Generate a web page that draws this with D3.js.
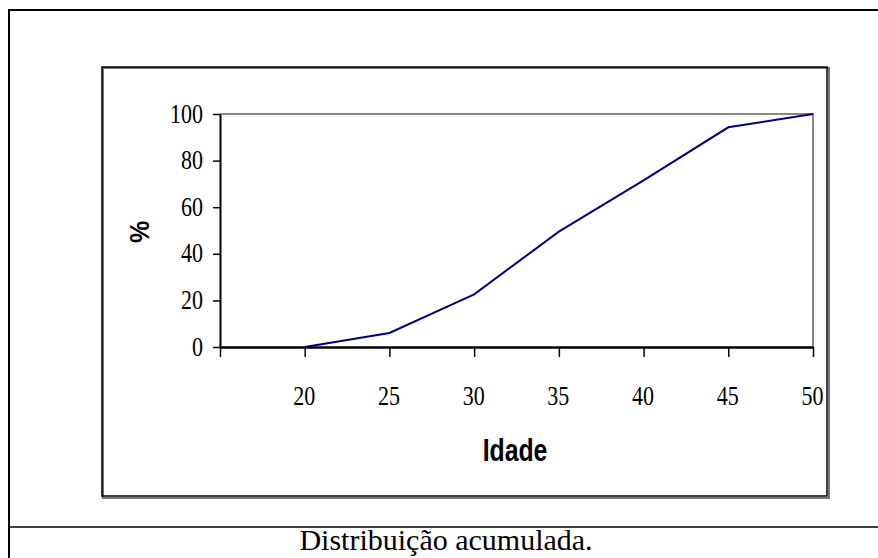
<!DOCTYPE html>
<html>
<head>
<meta charset="utf-8">
<script src="https://cdn.jsdelivr.net/npm/d3@7"></script>
<style>
  body { margin: 0; background: #fff; }
  svg { display: block; }
</style>
</head>
<body>
<svg></svg>
<script>
var idades = [20, 25, 30, 35, 40, 45, 50];
var acumulado = [0, 6, 22.6, 49.5, 71.5, 94.3, 100];
var yTicks = [0, 20, 40, 60, 80, 100];

var svg = d3.select("svg").attr("width", 878).attr("height", 558);

// moldura da figura
svg.append("line").attr("x1", 9).attr("x2", 878).attr("y1", 10).attr("y2", 10)
  .attr("stroke", "#000").attr("stroke-width", 2);
svg.append("line").attr("x1", 9).attr("x2", 9).attr("y1", 9).attr("y2", 558)
  .attr("stroke", "#000").attr("stroke-width", 2);
svg.append("line").attr("x1", 9).attr("x2", 878).attr("y1", 527).attr("y2", 527)
  .attr("stroke", "#000").attr("stroke-width", 1.5);

// caixa do grafico (com sombra)
svg.append("rect").attr("x", 103).attr("y", 68).attr("width", 726).attr("height", 430)
  .attr("fill", "none").attr("stroke", "#777").attr("stroke-width", 2);
svg.append("rect").attr("x", 102).attr("y", 67).attr("width", 725).attr("height", 429)
  .attr("fill", "none").attr("stroke", "#000").attr("stroke-width", 1.5);

var x = d3.scaleLinear().domain([15, 50]).range([220, 813]);
var y = d3.scaleLinear().domain([0, 100]).range([347, 114]);

// borda cinza da area de plotagem
svg.append("path")
  .attr("d", "M" + x(15) + "," + y(100) + "H" + x(50) + "V" + y(0))
  .attr("fill", "none").attr("stroke", "#888").attr("stroke-width", 2);

var serif = "'Liberation Serif', 'Times New Roman', serif";
var sans = "'Liberation Sans', Arial, sans-serif";

// eixo Y
var yAxis = svg.append("g").attr("transform", "translate(" + x(15) + ",0)")
  .call(d3.axisLeft(y).tickValues(yTicks).tickSize(7).tickPadding(10).tickSizeOuter(0));
yAxis.select(".domain").attr("stroke", "#000").attr("stroke-width", 2);
yAxis.selectAll(".tick line").attr("stroke", "#000").attr("stroke-width", 1.5);
yAxis.selectAll(".tick text")
  .attr("font-family", serif).attr("font-size", 22).attr("fill", "#000")
  .attr("x", null).attr("dy", null)
  .attr("transform", "translate(-17,8) scale(1,1.22)");

// eixo X
var xAxis = svg.append("g").attr("transform", "translate(0," + y(0) + ")")
  .call(d3.axisBottom(x).tickValues([15].concat(idades)).tickSize(10).tickSizeOuter(0).tickFormat(function(d) { return d === 15 ? "" : d; }));
xAxis.select(".domain").attr("stroke", "#000").attr("stroke-width", 2.5);
xAxis.selectAll(".tick line").attr("stroke", "#000").attr("stroke-width", 1.5);
xAxis.selectAll(".tick text")
  .attr("font-family", serif).attr("font-size", 22).attr("fill", "#000")
  .attr("y", null).attr("dy", null)
  .attr("transform", "translate(-1,58) scale(1,1.22)");

// linha acumulada
var line = d3.line().x(function(d, i) { return x(idades[i]); }).y(function(d) { return y(d); });
svg.append("path").datum(acumulado)
  .attr("d", line)
  .attr("fill", "none").attr("stroke", "#000080").attr("stroke-width", 2);

// titulos dos eixos
svg.append("text")
  .attr("transform", "translate(149,232) rotate(-90) scale(1,1.1)")
  .attr("text-anchor", "middle")
  .attr("font-family", sans).attr("font-weight", "bold").attr("font-size", 25)
  .text("%");
svg.append("text")
  .attr("text-anchor", "middle")
  .attr("font-family", sans).attr("font-weight", "bold").attr("font-size", 31)
  .attr("transform", "translate(515,461) scale(0.8,1)")
  .text("Idade");

// legenda da figura
svg.append("text")
  .attr("text-anchor", "middle")
  .attr("font-family", serif).attr("font-size", 30)
  .attr("transform", "translate(446,550)")
  .text("Distribuição acumulada.");
</script>
</body>
</html>
